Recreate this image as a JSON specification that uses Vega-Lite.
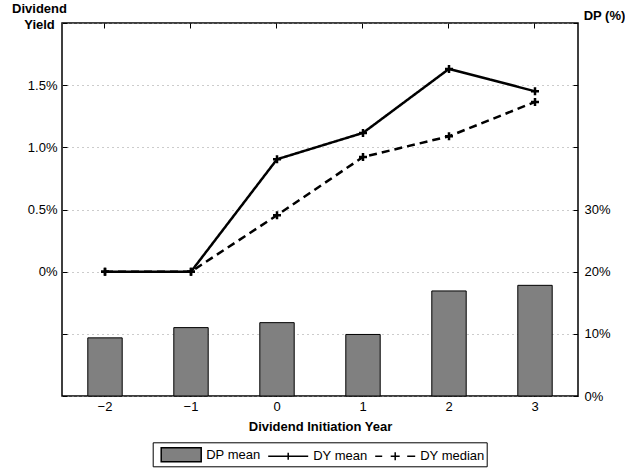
{
  "$schema": "https://vega.github.io/schema/vega-lite/v6.json",
  "width": 516,
  "height": 373,
  "autosize": "none",
  "padding": {"left": 62, "top": 23, "right": 47, "bottom": 76},
  "config": {
    "font": "Liberation Sans",
    "view": {"stroke": "black", "strokeWidth": 1.5},
    "axis": {
      "domain": false,
      "tickColor": "black",
      "tickWidth": 1,
      "tickSize": -5,
      "labelFont": "Liberation Sans",
      "labelFontSize": 13,
      "labelColor": "black",
      "titleFont": "Liberation Sans",
      "titleFontSize": 13,
      "titleFontWeight": "bold",
      "titleColor": "black",
      "grid": false
    },
    "legend": {
      "labelFont": "Liberation Sans",
      "labelFontSize": 13,
      "labelColor": "black"
    }
  },
  "data": {
    "values": [
      {"year": -2, "series": "DP mean", "value": 9.35},
      {"year": -1, "series": "DP mean", "value": 11.0},
      {"year": 0, "series": "DP mean", "value": 11.8},
      {"year": 1, "series": "DP mean", "value": 9.9},
      {"year": 2, "series": "DP mean", "value": 16.9},
      {"year": 3, "series": "DP mean", "value": 17.8},
      {"year": -2, "series": "DY mean", "value": 0.0},
      {"year": -1, "series": "DY mean", "value": 0.0},
      {"year": 0, "series": "DY mean", "value": 0.904},
      {"year": 1, "series": "DY mean", "value": 1.116},
      {"year": 2, "series": "DY mean", "value": 1.631},
      {"year": 3, "series": "DY mean", "value": 1.451},
      {"year": -2, "series": "DY median", "value": 0.0},
      {"year": -1, "series": "DY median", "value": 0.0},
      {"year": 0, "series": "DY median", "value": 0.454},
      {"year": 1, "series": "DY median", "value": 0.922},
      {"year": 2, "series": "DY median", "value": 1.089},
      {"year": 3, "series": "DY median", "value": 1.365}
    ]
  },
  "layer": [
    {
      "transform": [{"filter": "datum.series == 'DP mean'"}],
      "mark": {"type": "bar", "fill": "#808080", "stroke": "black", "strokeWidth": 1},
      "encoding": {
        "x": {
          "field": "year", "type": "ordinal",
          "scale": {"paddingInner": 0.6, "paddingOuter": 0.3},
          "axis": {
            "orient": "bottom",
            "labelAngle": 0,
            "labelPadding": 9,
            "labelExpr": "replace(datum.label, '-', '\u2212')",
            "title": "Dividend Initiation Year",
            "titlePadding": 7
          }
        },
        "y": {
          "field": "value", "type": "quantitative",
          "scale": {"domain": [0, 60], "nice": false, "zero": true},
          "axis": {
            "orient": "right",
            "values": [0, 10, 20, 30, 40, 50, 60],
            "labelExpr": "datum.value <= 30 ? datum.value + '%' : ''",
            "labelPadding": 11,
            "title": "DP (%)",
            "titleAngle": 0,
            "titleAlign": "center",
            "titleBaseline": "middle",
            "titleX": 26,
            "titleY": -7.5
          }
        }
      }
    },
    {
      "layer": [
        {
          "transform": [{"filter": "datum.series != 'DP mean'"}],
          "mark": {"type": "line", "color": "black", "strokeWidth": 2.5},
          "encoding": {
            "x": {
              "field": "year", "type": "ordinal",
              "axis": {"orient": "top", "labels": false, "title": null}
            },
            "y": {
              "field": "value", "type": "quantitative",
              "scale": {"domain": [-1, 2], "nice": false, "zero": false},
              "axis": {
                "orient": "left",
                "values": [-1, -0.5, 0, 0.5, 1, 1.5, 2],
                "grid": true,
                "gridColor": "#999999",
                "gridDash": [1, 4],
                "gridWidth": 1,
                "labelPadding": 10,
                "labelExpr": "datum.value < 0 || datum.value > 1.6 ? '' : (datum.value == 0 ? '0%' : format(datum.value, '.1f') + '%')",
                "title": ["Dividend", "Yield"],
                "titleAngle": 0,
                "titleAlign": "center",
                "titleBaseline": "top",
                "titleLineHeight": 16,
                "titleX": -23,
                "titleY": -21
              }
            },
            "strokeDash": {
              "field": "series", "type": "nominal",
              "scale": {"domain": ["DY mean", "DY median"], "range": [[1, 0], [8, 5]]},
              "legend": null
            }
          }
        },
        {
          "transform": [{"filter": "datum.series != 'DP mean'"}],
          "mark": {"type": "point", "shape": "M-1,0H1M0,-1V1", "size": 64, "filled": false, "stroke": "black", "strokeWidth": 2.5, "opacity": 1},
          "encoding": {
            "x": {"field": "year", "type": "ordinal"},
            "y": {"field": "value", "type": "quantitative"}
          }
        },
        {
          "transform": [{"filter": "datum.series == 'DP mean'"}],
          "mark": {"type": "point", "filled": true, "fill": "#808080", "stroke": "black", "strokeWidth": 1.5, "opacity": 1, "clip": true},
          "encoding": {
            "x": {"field": "year", "type": "ordinal"},
            "y": {"field": "value", "type": "quantitative"},
            "shape": {
              "field": "series", "type": "nominal",
              "scale": {
                "domain": ["DP mean", "DY mean", "DY median"],
                "range": [
                  "M-2,-0.7H2V0.7H-2Z",
                  "M-2,0H2M0,-0.35V0.35",
                  "M-2,0H-1.3M-0.45,0H0.45M1.2,0H2M0,-0.4V0.4"
                ]
              },
              "legend": {
                "orient": "none",
                "legendX": 90.7,
                "legendY": 419.3,
                "direction": "horizontal",
                "title": null,
                "strokeColor": "black",
                "fillColor": "white",
                "padding": 1.5,
                "symbolSize": 400,
                "symbolOffset": 16,
                "labelOffset": 14,
                "columnPadding": -10,
                "encode": {
                  "symbols": {
                    "update": {
                      "fill": {"value": "#808080"},
                      "stroke": {"value": "black"},
                      "strokeWidth": {"value": 1.5},
                      "opacity": {"value": 1}
                    }
                  }
                }
              }
            }
          }
        }
      ]
    }
  ],
  "resolve": {"scale": {"y": "independent"}, "axis": {"x": "independent"}}
}
